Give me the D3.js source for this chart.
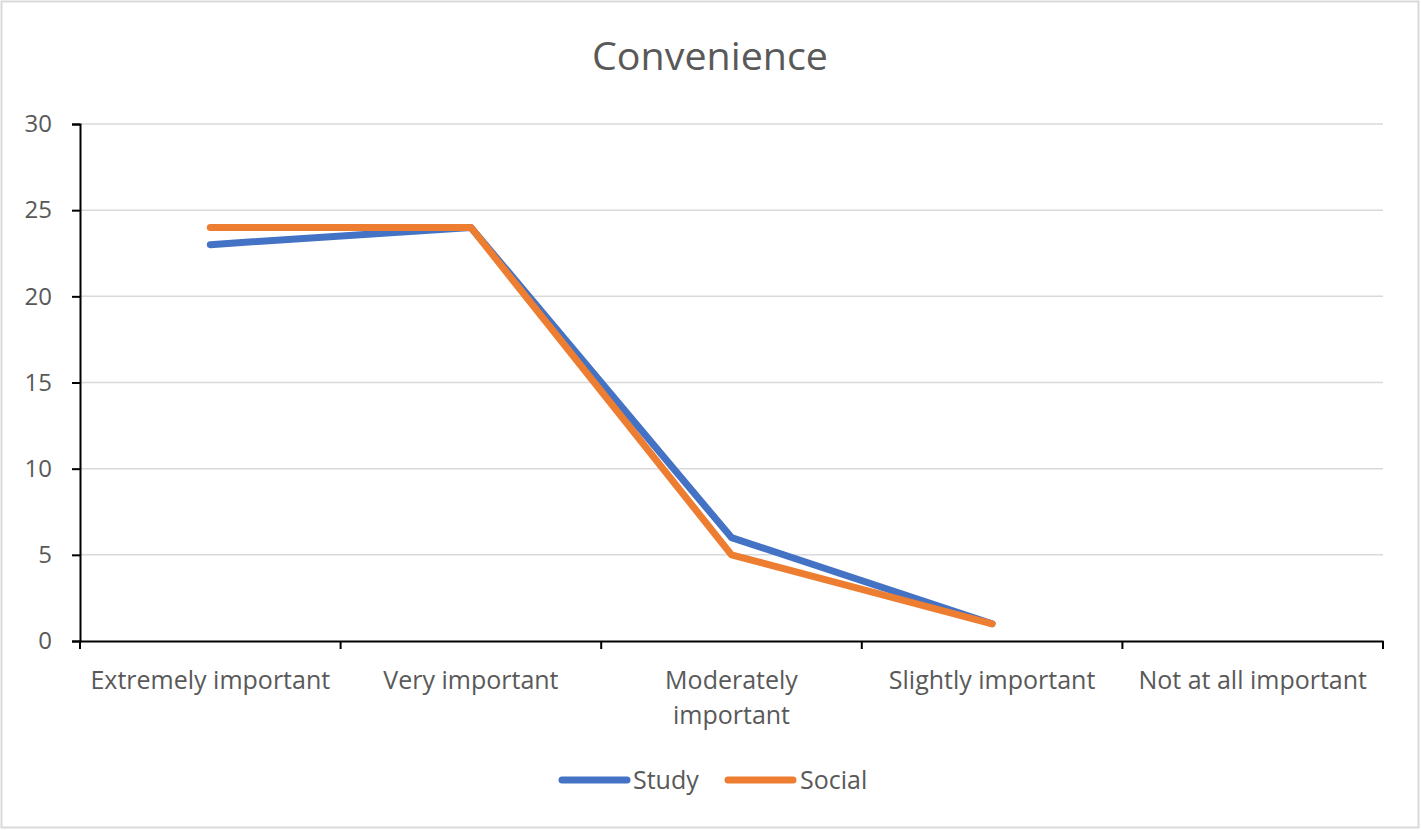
<!DOCTYPE html>
<html><head><meta charset="utf-8">
<script src="https://cdn.jsdelivr.net/npm/d3@7"></script>
<style>body{margin:0;background:#fff}svg{display:block}</style>
</head><body>
<script>
const categories = ["Extremely important","Very important","Moderately important","Slightly important","Not at all important"];
const categoryLines = [["Extremely important"],["Very important"],["Moderately","important"],["Slightly important"],["Not at all important"]];
const studyValues = [23,24,6,1,null];
const socialValues = [24,24,5,1,null];
const yTicks = [0,5,10,15,20,25,30];
const seriesNames = ["Study","Social"];
const seriesColors = ["#4472C4","#ED7D31"];
const titleText = "Convenience";

const W=1421,H=830;
const svg=d3.select("body").append("svg").attr("width",W).attr("height",H);
svg.append("rect").attr("x",1.5).attr("y",1.5).attr("width",W-4).attr("height",H-4).attr("fill","#fff").attr("stroke","#d9d9d9").attr("stroke-width",2);
const font="Open Sans, Liberation Sans, sans-serif";
const txt="#595959";
const L=80,R=1383,T=124,B=641;
const x=d3.scaleBand().domain(categories).range([L,R]).padding(0);
const y=d3.scaleLinear().domain([0,30]).range([B,T]);

svg.append("text").attr("x",710).attr("y",70).attr("text-anchor","middle").attr("font-family",font).attr("font-size",38).attr("fill",txt).attr("textLength",236).attr("lengthAdjust","spacingAndGlyphs").text(titleText);

// grid
svg.append("g").selectAll("line").data(yTicks.filter(d=>d>0)).join("line")
 .attr("x1",L).attr("x2",R).attr("y1",d=>y(d)).attr("y2",d=>y(d)).attr("stroke","#d9d9d9").attr("stroke-width",1.5);

// y axis
const ya=svg.append("g").attr("transform",`translate(${L},0)`).call(d3.axisLeft(y).tickValues(yTicks).tickSize(8).tickPadding(20));
ya.select(".domain").attr("stroke","#000").attr("stroke-width",2);
ya.selectAll(".tick line").attr("stroke","#000").attr("stroke-width",2);
ya.selectAll("text").attr("font-family",font).attr("font-size",24).attr("fill",txt);

// x axis
const xa=svg.append("g").attr("transform",`translate(0,${B})`).call(d3.axisBottom(x).tickSize(0).tickFormat(""));
xa.select(".domain").attr("stroke","#000").attr("stroke-width",2);
const bounds=categories.map(c=>x(c)).concat([x(categories[categories.length-1])+x.bandwidth()]);
xa.append("g").selectAll("line").data(bounds).join("line").attr("x1",d=>d).attr("x2",d=>d).attr("y1",0).attr("y2",8).attr("stroke","#000").attr("stroke-width",2);
const lab=svg.append("g");
categories.forEach((c,i)=>{
  const t=lab.append("text").attr("x",x(c)+x.bandwidth()/2).attr("y",689).attr("text-anchor","middle").attr("font-family",font).attr("font-size",25).attr("fill",txt);
  categoryLines[i].forEach((s,j)=>t.append("tspan").attr("x",x(c)+x.bandwidth()/2).attr("dy",j?35:0).text(s));
});

const cx=c=>x(c)+x.bandwidth()/2;
const line=d3.line().defined(d=>d.v!=null).x(d=>cx(d.c)).y(d=>y(d.v));
[studyValues,socialValues].forEach((vals,i)=>{
  svg.append("path").datum(categories.map((c,k)=>({c,v:vals[k]}))).attr("d",line).attr("fill","none")
   .attr("stroke",seriesColors[i]).attr("stroke-width",7).attr("stroke-linecap","round").attr("stroke-linejoin","round");
});

// legend
const leg=[{x:559,tx:633},{x:725,tx:800}];
seriesNames.forEach((n,i)=>{
  svg.append("line").attr("x1",leg[i].x+3).attr("x2",leg[i].x+68).attr("y1",780).attr("y2",780).attr("stroke",seriesColors[i]).attr("stroke-width",7).attr("stroke-linecap","round");
  svg.append("text").attr("x",leg[i].tx).attr("y",789).attr("font-family",font).attr("font-size",25).attr("fill",txt).text(n);
});
</script>
</body></html>
